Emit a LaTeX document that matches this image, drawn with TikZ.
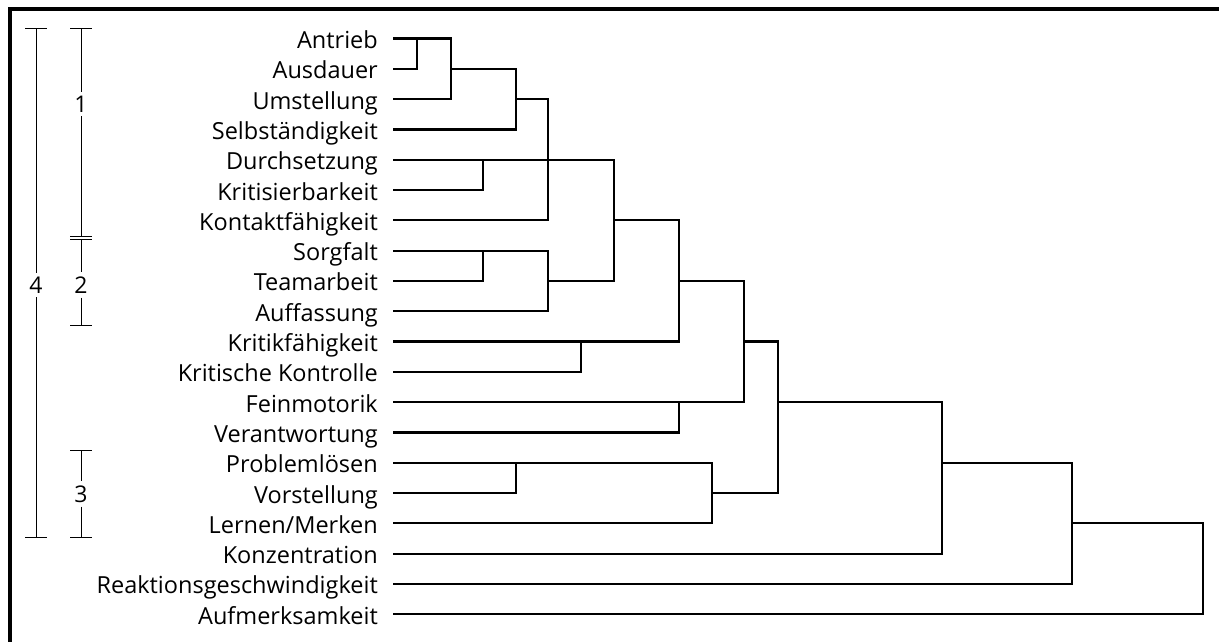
\documentclass[tikz,border=0pt]{standalone}
\usepackage{fontspec}
\setmainfont{Open Sans}
% vertical position of leaf row #1
\newcommand{\rowY}[1]{38.5+30.3*(#1)}
\begin{document}
\begin{tikzpicture}[x=1pt,y=-1pt,
  lab/.style={anchor=base east, inner sep=0pt, font=\fontsize{23.5}{28}\selectfont},
  tree/.style={line width=2.2pt},
  brk/.style={line width=1pt},
  grp/.style={inner sep=4pt, font=\fontsize{23}{28}\selectfont}]
\useasboundingbox (0,0) rectangle (1219,642);
\clip (0,0) rectangle (1219,642);
% frame
\draw[line width=4pt] (10,9) rectangle (1260,700);

% leaf labels and the start points of their lines
\foreach \i/\t in {0/Antrieb, 1/Ausdauer, 2/Umstellung, 3/Selbständigkeit,
  4/Durchsetzung, 5/Kritisierbarkeit, 6/Kontaktfähigkeit, 7/Sorgfalt,
  8/Teamarbeit, 9/Auffassung, 10/Kritikfähigkeit, 11/Kritische Kontrolle,
  12/Feinmotorik, 13/Verantwortung, 14/Problemlösen, 15/Vorstellung,
  16/{Lernen/Merken}, 17/Konzentration, 18/Reaktionsgeschwindigkeit,
  19/Aufmerksamkeit} {
  \node[lab] (n\i) at (378, {\rowY{\i}+10}) {\t};
  \coordinate (p\i) at (393, {\rowY{\i}});
}

% cluster junctions
\coordinate (c1)  at (417,  {\rowY{0}});
\coordinate (c2)  at (451,  {\rowY{1}});
\coordinate (c3)  at (516,  {\rowY{2}});
\coordinate (c4)  at (483,  {\rowY{4}});
\coordinate (c5)  at (548,  {\rowY{4}});
\coordinate (c6)  at (483,  {\rowY{7}});
\coordinate (c7)  at (548,  {\rowY{8}});
\coordinate (c8)  at (614,  {\rowY{6}});
\coordinate (c9)  at (581,  {\rowY{10}});
\coordinate (c10) at (679,  {\rowY{8}});
\coordinate (c11) at (679,  {\rowY{12}});
\coordinate (c12) at (744,  {\rowY{10}});
\coordinate (c13) at (516,  {\rowY{14}});
\coordinate (c14) at (712,  {\rowY{15}});
\coordinate (c15) at (778,  {\rowY{12}});
\coordinate (c16) at (942,  {\rowY{14}});
\coordinate (c17) at (1072, {\rowY{16}});
\coordinate (c18) at (1203, {\rowY{17}});

% dendrogram
\begin{scope}[tree]
\draw (p0) -| (c1) |- (p1);
\draw (c1) -| (c2) |- (p2);
\draw (c2) -| (c3) |- (p3);
\draw (p4) -| (c4) |- (p5);
\draw (c3) -| (c5) |- (p6);
\draw (p7) -| (c6) |- (p8);
\draw (c6) -| (c7) |- (p9);
\draw (c4) -- (c4 -| c8);
\draw (c5) -| (c8) |- (c7);
\draw (p10) -| (c9) |- (p11);
\draw (c8) -| (c10) |- (c9);
\draw (p12) -| (c11) |- (p13);
\draw (c10) -| (c12) |- (c11);
\draw (p14) -| (c13) |- (p15);
\draw (c13) -| (c14) |- (p16);
\draw (c12) -| (c15) |- (c14);
\draw (c15) -| (c16) |- (p17);
\draw (c16) -| (c17) |- (p18);
\draw (c17) -| (c18) |- (p19);
\end{scope}

% group brackets
\coordinate (b4t) at (36,29);  \coordinate (b4b) at (36,537);
\coordinate (b1t) at (81,29);  \coordinate (b1b) at (81,236);
\coordinate (b2t) at (81,239); \coordinate (b2b) at (81,325);
\coordinate (b3t) at (81,450); \coordinate (b3b) at (81,537);
\node[grp] (g4) at (36,285) {4};
\node[grp] (g1) at (81,104) {1};
\node[grp] (g2) at (81,285) {2};
\node[grp] (g3) at (81,494) {3};
\begin{scope}[brk]
\foreach \g in {1,2,3,4} {
  \draw (b\g t) -- (g\g);
  \draw (g\g) -- (b\g b);
  \draw ([xshift=-11pt]b\g t) -- ([xshift=11pt]b\g t);
  \draw ([xshift=-11pt]b\g b) -- ([xshift=11pt]b\g b);
}
\end{scope}
\end{tikzpicture}
\end{document}
